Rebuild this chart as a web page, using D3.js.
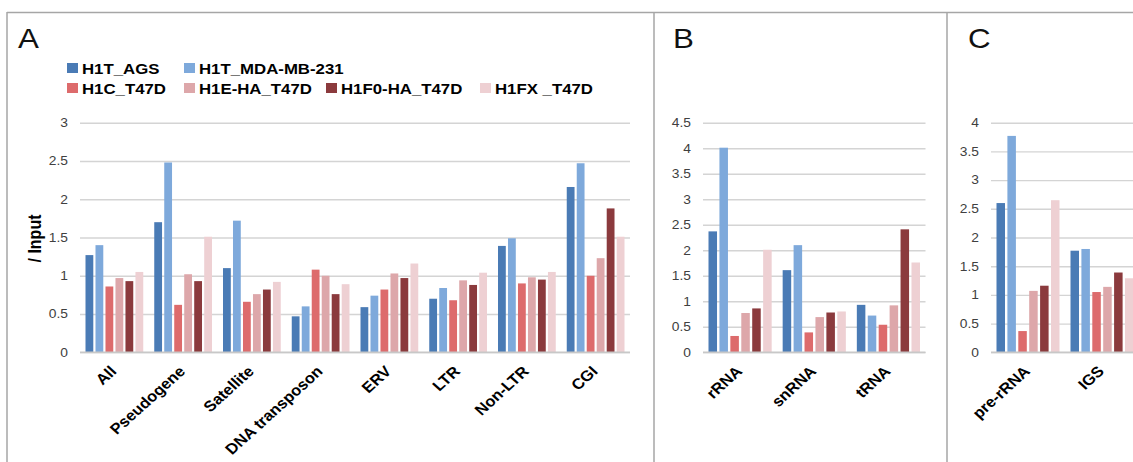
<!DOCTYPE html>
<html>
<head>
<meta charset="utf-8">
<script src="https://cdn.jsdelivr.net/npm/d3@7"></script>
<style>
  body { margin: 0; background: #fff; }
  svg { display: block; font-family: "Liberation Sans", Arial, sans-serif; }
</style>
</head>
<body>
<svg id="chart" width="1133" height="462"></svg>
<script>
// series shared by all three panels
const seriesNames = ['H1T_AGS', 'H1T_MDA-MB-231', 'H1C_T47D', 'H1E-HA_T47D', 'H1F0-HA_T47D', 'H1FX _T47D'];
const seriesColors = ['#4a7bb5', '#7ea9db', '#dd6b6c', '#dda7aa', '#8b3a3d', '#eed0d3'];

// panel A
const catsA = ['All', 'Pseudogene', 'Satellite', 'DNA transposon', 'ERV', 'LTR', 'Non-LTR', 'CGI'];
const valuesA = [
  [1.27, 1.40, 0.86, 0.97, 0.93, 1.05],
  [1.70, 2.48, 0.62, 1.02, 0.93, 1.51],
  [1.10, 1.72, 0.66, 0.76, 0.82, 0.92],
  [0.47, 0.60, 1.08, 1.00, 0.76, 0.89],
  [0.59, 0.74, 0.82, 1.03, 0.97, 1.16],
  [0.70, 0.84, 0.68, 0.94, 0.88, 1.04],
  [1.39, 1.49, 0.90, 0.98, 0.95, 1.05],
  [2.16, 2.47, 1.00, 1.23, 1.88, 1.51]
];
const ticksA = [0, 0.5, 1, 1.5, 2, 2.5, 3];

// panel B
const catsB = ['rRNA', 'snRNA', 'tRNA'];
const valuesB = [
  [2.37, 4.01, 0.32, 0.77, 0.86, 2.01],
  [1.61, 2.10, 0.39, 0.69, 0.78, 0.80],
  [0.93, 0.72, 0.54, 0.92, 2.41, 1.76]
];
const ticksB = [0, 0.5, 1, 1.5, 2, 2.5, 3, 3.5, 4, 4.5];

// panel C (cut off at the right edge)
const catsC = ['pre-rRNA', 'IGS'];
const valuesC = [
  [2.60, 3.77, 0.37, 1.07, 1.16, 2.65],
  [1.77, 1.80, 1.05, 1.14, 1.39, 1.29]
];
const ticksC = [0, 0.5, 1, 1.5, 2, 2.5, 3, 3.5, 4];

const svg = d3.select('#chart');
const plotTop = 122.7, plotBottom = 352.3;
const stretch = 1.2; // the source figure is a bit wider than tall, text looks widened

svg.append('rect').attr('width', 1133).attr('height', 462).attr('fill', '#fff');

// panel frames
const frame = svg.append('g').attr('stroke', '#a6a6a6').attr('stroke-width', 1.5).attr('fill', 'none');
frame.append('line').attr('x1', 7).attr('x2', 1133).attr('y1', 12.5).attr('y2', 12.5);
[7, 654, 947].forEach(x => {
  frame.append('line').attr('x1', x).attr('x2', x).attr('y1', 12).attr('y2', 462);
});

function panel(letter, letterX, cats, values, ticks, x0, x1) {
  const g = svg.append('g');

  g.append('text').attr('transform', `translate(${letterX},48) scale(1.12,1)`)
    .attr('font-size', 28).attr('fill', '#111').text(letter);

  const y = d3.scaleLinear().domain([0, d3.max(ticks)]).range([plotBottom, plotTop]);
  const x = d3.scaleBand().domain(cats).range([x0, x1]).padding(0);
  const inner = d3.scaleBand().domain(d3.range(seriesNames.length))
    .range([5.5, x.bandwidth() - 5.5]).paddingInner(0.22);

  const yAxis = g.append('g').attr('transform', `translate(${x0},0)`)
    .call(d3.axisLeft(y).tickValues(ticks).tickSize(-(x1 - x0)).tickPadding(12).tickFormat(d3.format('')));
  yAxis.select('.domain').remove();
  yAxis.selectAll('.tick line').attr('stroke', '#d4d4d4').attr('stroke-width', 1.4);
  yAxis.selectAll('.tick text')
    .attr('x', 0).attr('transform', 'translate(-12,0) scale(1.15,1)')
    .attr('font-size', 12).attr('fill', '#404040');

  const groups = g.selectAll('.cat').data(values).join('g')
    .attr('transform', (d, i) => `translate(${x(cats[i])},0)`);
  groups.selectAll('rect').data(d => d).join('rect')
    .attr('x', (d, i) => inner(i))
    .attr('width', inner.bandwidth())
    .attr('y', d => y(d))
    .attr('height', d => y(0) - y(d))
    .attr('fill', (d, i) => seriesColors[i]);

  g.append('line').attr('x1', x0).attr('x2', x1).attr('y1', plotBottom).attr('y2', plotBottom)
    .attr('stroke', '#c8c8c8').attr('stroke-width', 1.4);

  const xAxis = g.append('g').attr('transform', `translate(0,${plotBottom})`)
    .call(d3.axisBottom(x).tickSize(0));
  xAxis.select('.domain').remove();
  xAxis.selectAll('.tick text')
    .attr('x', 0).attr('y', 0).attr('dy', 0)
    .attr('text-anchor', 'end')
    .attr('transform', 'translate(3,20) scale(1.1,1) rotate(-45)')
    .attr('font-size', 15).attr('font-weight', 'bold').attr('fill', '#000');
  return g;
}

panel('A', 18, catsA, valuesA, ticksA, 80, 630);
panel('B', 673, catsB, valuesB, ticksB, 703, 925.5);
panel('C', 968, catsC, valuesC, ticksC, 991, 1139);

// y title
svg.append('text').attr('transform', 'translate(41,238.5) rotate(-90) scale(1,1.1)')
  .attr('text-anchor', 'middle').attr('font-size', 16).attr('font-weight', 'bold')
  .text('/ Input');

// legend
const legendPos = [[67, 73.5], [184, 73.5], [67, 93.5], [184, 93.5], [326, 93.5], [480, 93.5]];
const legend = svg.append('g').selectAll('g').data(seriesNames).join('g')
  .attr('transform', (d, i) => `translate(${legendPos[i][0]},${legendPos[i][1]})`);
legend.append('rect').attr('x', 0).attr('y', -10.5).attr('width', 11).attr('height', 10)
  .attr('fill', (d, i) => seriesColors[i]);
legend.append('text').attr('transform', `translate(15,0) scale(${stretch},1)`)
  .attr('font-size', 14).attr('font-weight', 'bold').text(d => d);
</script>
</body>
</html>
